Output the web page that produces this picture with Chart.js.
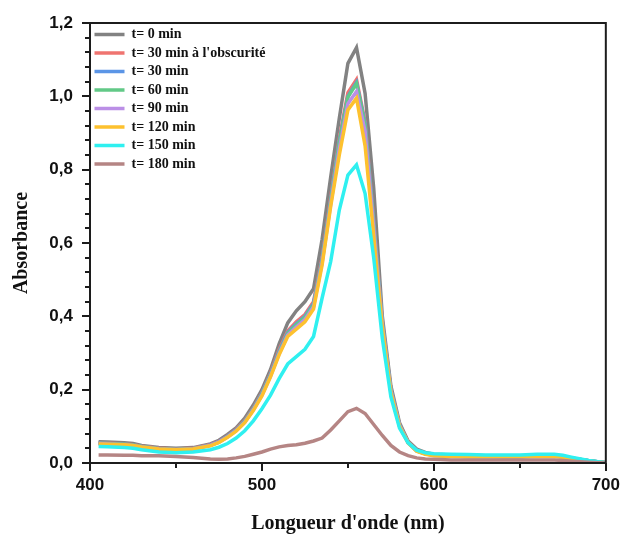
<!DOCTYPE html>
<html>
<head>
<meta charset="utf-8">
<script src="https://cdn.jsdelivr.net/npm/chart.js@4.4.1/dist/chart.umd.min.js"></script>
<style>
  html, body { margin: 0; padding: 0; background: #fff; }
  #wrap { width: 624px; height: 534px; }
</style>
</head>
<body>
<div id="wrap"><canvas id="spectre"></canvas></div>
<script>
// longueurs d'onde (nm)
const wavelengths = [405, 410, 420, 425, 430, 440, 450, 460, 470, 475, 480, 485, 490, 495, 500, 505,
  510, 515, 520, 525, 530, 535, 540, 545, 550, 555, 560, 565, 570, 575, 580, 585, 590, 595, 600,
  610, 620, 630, 640, 650, 660, 670, 675, 680, 690, 700];

const seriesNames = ["t= 0 min", "t= 30 min à l'obscurité", "t= 30 min", "t= 60 min",
  "t= 90 min", "t= 120 min", "t= 150 min", "t= 180 min"];

const seriesColors = ["#828282", "#ef7470", "#5b95e6", "#62c987", "#bb8fe6", "#fdc12e", "#2ff0f0", "#b58584"];

const abs_t0 = [.058, .057, .055, .053, .048, .042, .040, .042, .052, .062, .078, .096, .122, .158, .200, .255,
  .325, .382, .415, .440, .475, .610, .780, .940, 1.090, 1.133, 1.008, .750, .400, .210, .110, .060, .038, .029, .024,
  .022, .021, .020, .019, .019, .021, .021, .018, .014, .006, .001];
const abs_dark = [.055, .054, .052, .050, .046, .040, .038, .040, .050, .059, .074, .092, .116, .150, .192, .245,
  .310, .360, .385, .405, .440, .560, .725, .885, 1.010, 1.046, .930, .660, .385, .200, .105, .057, .034, .026, .022,
  .020, .019, .019, .018, .018, .020, .020, .017, .013, .006, .001];
const abs_30 = [.054, .053, .051, .049, .045, .039, .037, .039, .049, .058, .073, .090, .114, .148, .190, .242,
  .305, .356, .380, .400, .435, .555, .718, .878, 1.000, 1.038, .925, .655, .383, .200, .104, .056, .034, .026, .022,
  .020, .019, .019, .018, .018, .020, .020, .017, .013, .006, .001];
const abs_60 = [.054, .053, .051, .049, .045, .039, .037, .039, .048, .057, .072, .089, .113, .147, .188, .240,
  .302, .353, .377, .397, .432, .552, .714, .874, .998, 1.035, .920, .650, .380, .198, .103, .056, .033, .025, .021,
  .019, .018, .018, .018, .018, .019, .019, .017, .013, .006, .001];
const abs_90 = [.053, .052, .050, .048, .044, .038, .036, .038, .048, .057, .071, .088, .111, .145, .185, .237,
  .298, .349, .371, .391, .426, .546, .706, .857, .980, 1.013, .905, .640, .375, .196, .102, .055, .033, .025, .021,
  .019, .018, .018, .017, .017, .019, .019, .016, .012, .005, .001];
const abs_120 = [.052, .051, .050, .048, .044, .038, .036, .038, .047, .056, .070, .087, .110, .143, .183, .235,
  .295, .345, .365, .385, .420, .540, .700, .840, .963, .995, .865, .620, .370, .192, .100, .055, .032, .024, .020,
  .018, .017, .017, .017, .017, .018, .018, .016, .012, .005, .001];
const abs_150 = [.045, .044, .042, .040, .036, .030, .028, .030, .036, .043, .053, .068, .088, .115, .148, .185,
  .230, .270, .290, .310, .345, .450, .550, .690, .785, .813, .735, .560, .340, .180, .095, .055, .035, .028, .025,
  .024, .023, .022, .022, .022, .024, .024, .021, .016, .007, .001];
const abs_180 = [.022, .022, .021, .021, .020, .020, .018, .015, .011, .010, .011, .014, .018, .024, .030, .038,
  .044, .048, .050, .054, .060, .068, .090, .115, .140, .149, .135, .105, .075, .048, .030, .020, .014, .011, .010,
  .008, .008, .008, .008, .008, .008, .008, .007, .005, .002, 0];

const seriesValues = [abs_t0, abs_dark, abs_30, abs_60, abs_90, abs_120, abs_150, abs_180];

const xTicks = [400, 500, 600, 700];
const yTicks = [0, 0.2, 0.4, 0.6, 0.8, 1.0, 1.2];

const datasets = seriesNames.map((name, i) => ({
  label: name,
  data: wavelengths.map((w, k) => ({x: w, y: seriesValues[i][k]})),
  borderColor: seriesColors[i],
  backgroundColor: seriesColors[i],
  borderWidth: 3.5,
  pointRadius: 0,
  tension: 0,
  order: seriesNames.length - i
}));

// cadre + graduations (majeures et mineures) dessinés à la main
const axisFrame = {
  id: 'axisFrame',
  afterLayout(chart) {
    // la légende "chartArea" doit commencer en haut du cadre
    const lg = chart.legend, a = chart.chartArea;
    lg.top = a.top;
    lg.left = a.left;
  },
  afterDraw(chart) {
    const {ctx, chartArea: a} = chart;
    const sx = chart.scales.x, sy = chart.scales.y;
    ctx.save();
    ctx.strokeStyle = '#1c1c1c';
    ctx.lineWidth = 2;
    ctx.strokeRect(a.left, a.top, a.right - a.left, a.bottom - a.top);
    ctx.beginPath();
    for (let i = 0; i <= 6; i++) {
      const px = Math.round(sx.getPixelForValue(400 + i * 50));
      ctx.moveTo(px, a.bottom);
      ctx.lineTo(px, a.bottom + (i % 2 === 0 ? 8 : 5));
    }
    for (let i = 0; i <= 30; i++) {
      const py = Math.round(sy.getPixelForValue(i * 0.04));
      ctx.moveTo(a.left, py);
      ctx.lineTo(a.left - (i % 5 === 0 ? 8 : 5), py);
    }
    ctx.stroke();
    ctx.restore();
  }
};

const config = {
  type: 'line',
  data: {datasets: datasets},
  options: {
    responsive: true,
    maintainAspectRatio: false,
    animation: false,
    layout: {padding: {top: 23, right: 12, left: 0, bottom: 0}},
    scales: {
      x: {
        type: 'linear',
        min: 400,
        max: 700,
        afterFit: (s) => { s.height = 71; },
        afterBuildTicks: (s) => { s.ticks = xTicks.map(v => ({value: v})); },
        grid: {display: false},
        border: {display: false},
        ticks: {
          padding: 4,
          color: '#111',
          font: {family: 'Liberation Sans', weight: 'bold', size: 17}
        },
        title: {
          display: true,
          text: "Longueur d'onde (nm)",
          color: '#111',
          padding: {top: 0, bottom: -2},
          font: {family: 'Liberation Serif', weight: 'bold', size: 20}
        }
      },
      y: {
        min: 0,
        max: 1.2,
        afterFit: (s) => { s.width = 90; },
        afterBuildTicks: (s) => { s.ticks = yTicks.map(v => ({value: v})); },
        grid: {display: false},
        border: {display: false},
        ticks: {
          padding: 9,
          color: '#111',
          font: {family: 'Liberation Sans', weight: 'bold', size: 17},
          callback: (v) => Number(v).toFixed(1).replace('.', ',')
        },
        title: {
          display: true,
          text: 'Absorbance',
          color: '#111',
          padding: {top: 10, bottom: 0},
          font: {family: 'Liberation Serif', weight: 'bold', size: 20}
        }
      }
    },
    plugins: {
      legend: {
        position: 'chartArea',
        align: 'start',
        labels: {
          usePointStyle: true,
          pointStyle: 'line',
          pointStyleWidth: 30,
          padding: 4.5,
          color: '#111',
          font: {family: 'Liberation Serif', weight: 'bold', size: 14},
          sort: (a, b) => a.datasetIndex - b.datasetIndex
        }
      },
      tooltip: {enabled: false}
    }
  },
  plugins: [axisFrame]
};

const spectreChart = new Chart(document.getElementById('spectre'), config);
</script>
</body>
</html>
